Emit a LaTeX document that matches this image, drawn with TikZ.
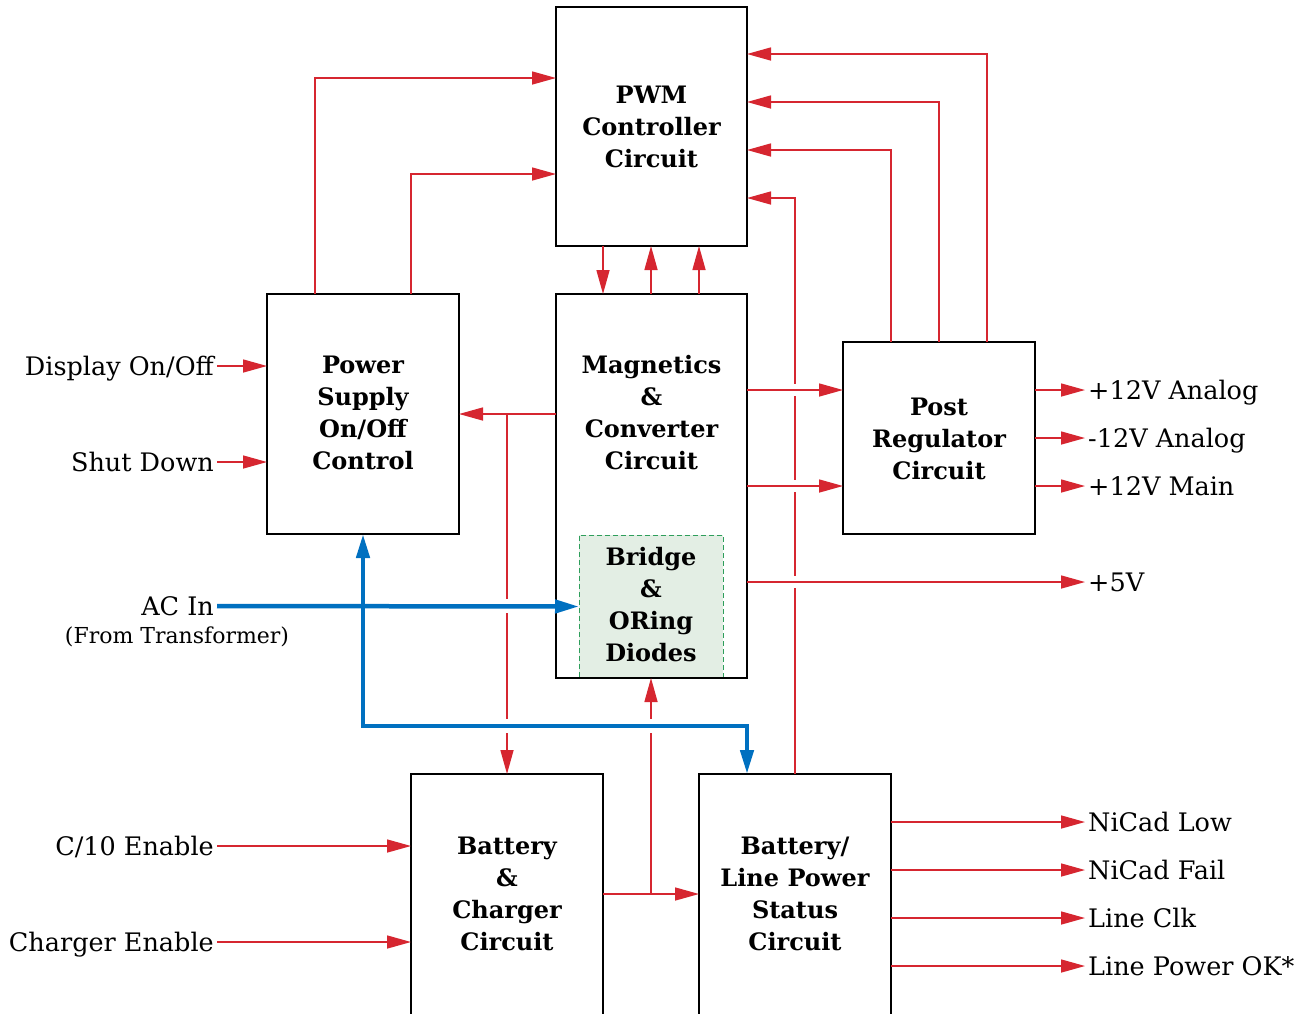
\documentclass[tikz,border=0pt]{standalone}
\usepackage{fontspec}
\setmainfont{DejaVu Serif}
\usetikzlibrary{arrows.meta,calc}
\definecolor{rdc}{RGB}{214,38,48}
\definecolor{blc}{RGB}{0,112,192}
\definecolor{grc}{RGB}{46,158,91}
\definecolor{grfill}{RGB}{227,238,228}
\begin{document}
\begin{tikzpicture}[x=1pt,y=-1pt,
  boxst/.style={draw=black, line width=2.8pt, inner sep=0pt, outer sep=0pt},
  lbl/.style={font=\fontsize{24}{32}\selectfont\bfseries, align=center, inner sep=0pt},
  io/.style={font=\fontsize{25.5}{30}\selectfont, inner sep=3pt, text height=19pt, text depth=0pt},
  tip/.style={-{Triangle[length=24pt,width=13pt]}},
  rl/.style={draw=rdc, line width=1.5pt, tip},
  bline/.style={draw=blc, line width=4.5pt},
  gapw/.style={fill=white}]
\clip (0,0) rectangle (1304,1013);
\fill[white] (0,0) rectangle (1304,1013);
% boxes
\node[boxst, minimum width=191pt, minimum height=239pt] (pwm) at (651.5,126.5) {};
\node[lbl] (pwmt) at (651.5,127) {PWM\\Controller\\Circuit};
\node[boxst, minimum width=192pt, minimum height=240pt] (pwr) at (363,414) {};
\node[lbl] (pwrt) at (363,413) {Power\\Supply\\On/Off\\Control};
\node[draw=grc, fill=grfill, line width=1pt, dash pattern=on 5pt off 3pt, minimum width=144pt, minimum height=143pt, inner sep=0pt, outer sep=0pt] (brg) at (651,606.5) {};
\node[lbl] (brgt) at (651,605) {Bridge\\\&\\ORing\\Diodes};
\node[boxst, minimum width=191pt, minimum height=384pt] (mag) at (651.5,486) {};
\node[lbl] (magt) at (651.5,413) {Magnetics\\\&\\Converter\\Circuit};
\node[boxst, minimum width=192pt, minimum height=192pt] (post) at (939,438) {};
\node[lbl] (postt) at (939,439) {Post\\Regulator\\Circuit};
\node[boxst, minimum width=192pt, minimum height=260pt] (bat) at (507,904) {};
\node[lbl] (batt) at (507,894) {Battery\\\&\\Charger\\Circuit};
\node[boxst, minimum width=192pt, minimum height=260pt] (bls) at (795,904) {};
\node[lbl] (blst) at (795,894) {Battery/\\Line Power\\Status\\Circuit};
% left labels
\node[io, anchor=east] (disp) at (217,366) {Display On/Off};
\node[io, anchor=east] (shut) at (217,462) {Shut Down};
\node[io, anchor=east] (acin) at (217,606) {AC In};
\node[font=\fontsize{22}{26}\selectfont, inner sep=0pt] (from) at (177,637) {(From Transformer)};
\node[io, anchor=east] (c10) at (217,846) {C/10 Enable};
\node[io, anchor=east] (chg) at (217,942) {Charger Enable};
% right labels
\node[io, anchor=west] (a12p) at (1085,390) {+12V Analog};
\node[io, anchor=west] (a12m) at (1085,438) {-12V Analog};
\node[io, anchor=west] (m12) at (1085,486) {+12V Main};
\node[io, anchor=west] (v5) at (1085,582) {+5V};
\node[io, anchor=west] (ncl) at (1085,822) {NiCad Low};
\node[io, anchor=west] (ncf) at (1085,870) {NiCad Fail};
\node[io, anchor=west] (lclk) at (1085,918) {Line Clk};
\node[io, anchor=west] (lpok) at (1085,966) {Line Power OK*};
% junctions
\coordinate (j1) at ($(mag.north west)+(-49,120)$);
\coordinate (j2) at ($(bat.north east)+(48,120)$);
% inputs
\draw[rl] (disp.east) -- ($(pwr.north west)+(0,72)$);
\draw[rl] (shut.east) -- ($(pwr.north west)+(0,168)$);
\draw[rl] (c10.east) -- ($(bat.north west)+(0,72)$);
\draw[rl] (chg.east) -- ($(bat.north west)+(0,168)$);
% to PWM
\draw[rl] ($(pwr.north west)+(48,0)$) |- ($(pwm.north west)+(0,71)$);
\draw[rl] ($(pwr.north west)+(144,0)$) |- ($(pwm.north west)+(0,167)$);
\draw[rl] ($(pwm.south west)+(47,0)$) -- ($(mag.north west)+(47,0)$);
\draw[rl] ($(mag.north west)+(95,0)$) -- ($(pwm.south west)+(95,0)$);
\draw[rl] ($(mag.north west)+(143,0)$) -- ($(pwm.south west)+(143,0)$);
\draw[rl] ($(post.north west)+(48,0)$) |- ($(pwm.north east)+(0,143)$);
\draw[rl] ($(post.north west)+(96,0)$) |- ($(pwm.north east)+(0,95)$);
\draw[rl] ($(post.north west)+(144,0)$) |- ($(pwm.north east)+(0,47)$);
\draw[rl] ($(bls.north west)+(96,0)$) |- ($(pwm.north east)+(0,191)$);
% branches
\draw[rl] (j1) -- (bat.north);
\draw[rl] (j2) -- ($(mag.south west)+(95,0)$);
% gaps
\fill[gapw] (791,384) rectangle (799,396);
\fill[gapw] (791,480) rectangle (799,492);
\fill[gapw] (791,576) rectangle (799,588);
\fill[gapw] (503,599) rectangle (511,613);
\fill[gapw] (503,719) rectangle (511,733);
\fill[gapw] (647,719) rectangle (655,733);
% horizontals
\draw[rl] ($(mag.north east)+(0,96)$) -- ($(post.north west)+(0,48)$);
\draw[rl] ($(mag.north east)+(0,192)$) -- ($(post.north west)+(0,144)$);
\draw[rl] ($(mag.north east)+(0,288)$) -- (v5.west);
\draw[rl] ($(mag.north west)+(0,120)$) -- (pwr.east);
\draw[rl] ($(bat.north east)+(0,120)$) -- ($(bls.north west)+(0,120)$);
\draw[rl] ($(post.north east)+(0,48)$) -- (a12p.west);
\draw[rl] ($(post.north east)+(0,96)$) -- (a12m.west);
\draw[rl] ($(post.north east)+(0,144)$) -- (m12.west);
\draw[rl] ($(bls.north east)+(0,48)$) -- (ncl.west);
\draw[rl] ($(bls.north east)+(0,96)$) -- (ncf.west);
\draw[rl] ($(bls.north east)+(0,144)$) -- (lclk.west);
\draw[rl] ($(bls.north east)+(0,192)$) -- (lpok.west);
% blue
\draw[bline, tip] (acin.east) -- (brg.west);
\draw[bline, {Triangle[length=24pt,width=13pt]}-{Triangle[length=24pt,width=13pt]}] (pwr.south) |- ($(bls.north west)+(48,-48)$) -- ($(bls.north west)+(48,0)$);
\end{tikzpicture}
\end{document}
